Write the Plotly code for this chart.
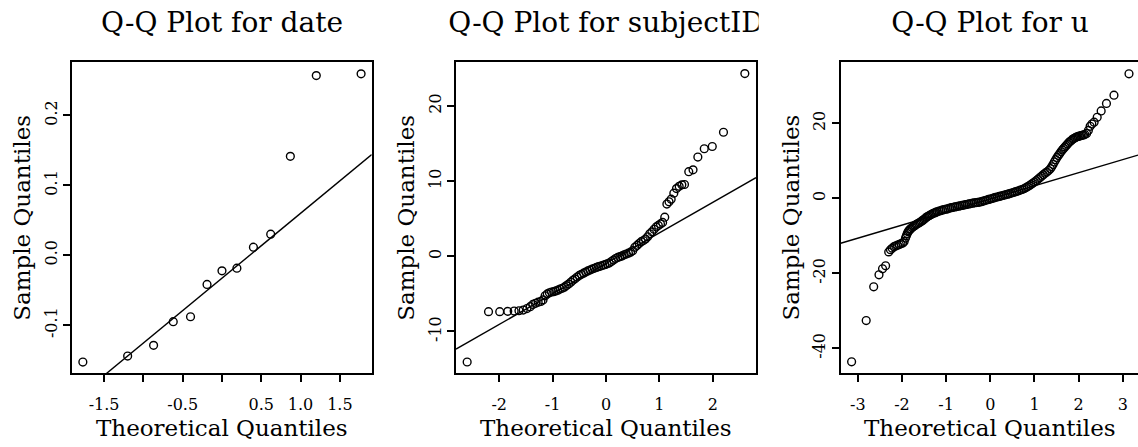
import plotly.graph_objects as go

# ---------------- data ----------------
date_theo = [-1.77, -1.20, -0.87, -0.62, -0.40, -0.19, 0.00, 0.19, 0.40, 0.62, 0.87, 1.20, 1.77]
date_samp = [-0.1529, -0.1443, -0.1290, -0.0952, -0.0881, -0.0419, -0.0224, -0.0186,
             0.0114, 0.0300, 0.1414, 0.2570, 0.2595]
date_line = (-0.0329, 0.0928)  # intercept, slope

subj_theo = [-2.60, -2.20, -1.99, -1.84, -1.72, -1.63, -1.55, -1.48, -1.42, -1.37, -1.32, -1.27,
             -1.22, -1.18, -1.14, -1.10, -1.06, -1.02, -0.98, -0.94, -0.90, -0.86, -0.82, -0.78,
             -0.74, -0.70, -0.66, -0.62, -0.58, -0.54, -0.50, -0.46, -0.42, -0.38, -0.34, -0.30,
             -0.26, -0.22, -0.18, -0.14, -0.10, -0.06, -0.02, 0.02, 0.06, 0.10, 0.14, 0.18,
             0.22, 0.26, 0.30, 0.34, 0.38, 0.42, 0.46, 0.50, 0.54, 0.58, 0.62, 0.66,
             0.70, 0.74, 0.78, 0.82, 0.86, 0.90, 0.94, 0.98, 1.02, 1.06, 1.10, 1.14,
             1.18, 1.22, 1.27, 1.32, 1.37, 1.42, 1.47, 1.55, 1.63, 1.72, 1.84, 1.99, 2.20, 2.60]
subj_samp = [-14.06, -7.36, -7.36, -7.32, -7.28, -7.24, -7.15, -6.95, -6.70, -6.40, -6.25, -6.10,
             -6.00, -5.80, -5.25, -5.00, -4.85, -4.75, -4.70, -4.60, -4.50, -4.35, -4.25, -4.10,
             -3.90, -3.70, -3.45, -3.20, -3.00, -2.75, -2.55, -2.40, -2.25, -2.10, -1.95, -1.82,
             -1.70, -1.60, -1.48, -1.38, -1.30, -1.20, -1.12, -1.00, -0.90, -0.70, -0.50, -0.30,
             -0.15, -0.05, 0.05, 0.20, 0.30, 0.42, 0.55, 0.75, 1.20, 1.45, 1.70, 1.95,
             2.10, 2.30, 2.60, 3.00, 3.25, 3.60, 3.90, 4.10, 4.30, 4.50, 5.20, 6.95,
             7.25, 7.60, 8.40, 9.00, 9.30, 9.50, 9.55, 11.25, 11.50, 13.20, 14.30, 14.60, 16.50, 24.30]
subj_line = (-0.94, 4.055)

u_theo = [-3.14, -2.81, -2.64, -2.52, -2.44, -2.37, -2.30, -2.26, -2.22, -2.18, -2.14, -2.10,
          -2.06, -2.02, -1.98, -1.95, -1.92, -1.90, -1.88, -1.86, -1.84, -1.82, -1.80, -1.77,
          -1.74, -1.71, -1.68, -1.65, -1.62, -1.59, -1.56, -1.53, -1.50, -1.47, -1.44, -1.41,
          -1.38, -1.35, -1.32, -1.29, -1.26, -1.23, -1.20, -1.16, -1.12, -1.08, -1.04, -1.00,
          -0.96, -0.92, -0.88, -0.84, -0.80, -0.76, -0.72, -0.68, -0.64, -0.60, -0.56, -0.52,
          -0.48, -0.44, -0.40, -0.36, -0.32, -0.28, -0.24, -0.20, -0.16, -0.12, -0.08, -0.04,
          0.00, 0.04, 0.08, 0.12, 0.16, 0.20, 0.24, 0.28, 0.32, 0.36, 0.40, 0.44,
          0.48, 0.52, 0.56, 0.60, 0.64, 0.68, 0.72, 0.76, 0.80, 0.84, 0.88, 0.92,
          0.96, 1.00, 1.04, 1.08, 1.12, 1.16, 1.20, 1.24, 1.28, 1.32, 1.36, 1.39,
          1.42, 1.45, 1.48, 1.51, 1.54, 1.57, 1.60, 1.63, 1.66, 1.69, 1.72, 1.75,
          1.78, 1.81, 1.84, 1.87, 1.90, 1.93, 1.96, 1.99, 2.02, 2.05, 2.08, 2.11,
          2.14, 2.18, 2.22, 2.26, 2.30, 2.35, 2.42, 2.51, 2.63, 2.80, 3.14]
u_samp = [-43.6, -32.6, -23.6, -20.4, -18.8, -18.0, -14.3, -13.7, -13.3, -12.9, -12.7, -12.5,
          -12.3, -12.1, -11.9, -11.5, -10.6, -10.0, -9.4, -8.9, -8.6, -8.3, -8.1, -7.8,
          -7.5, -7.3, -7.0, -6.8, -6.6, -6.4, -6.1, -5.9, -5.6, -5.3, -5.0, -4.8,
          -4.6, -4.4, -4.2, -4.0, -3.9, -3.7, -3.6, -3.4, -3.3, -3.1, -3.0, -2.9,
          -2.8, -2.6, -2.5, -2.4, -2.3, -2.2, -2.1, -2.0, -1.9, -1.8, -1.7, -1.6,
          -1.5, -1.4, -1.3, -1.2, -1.15, -1.1, -1.0, -0.9, -0.75, -0.6, -0.45, -0.3,
          -0.2, -0.05, 0.1, 0.25, 0.35, 0.5, 0.6, 0.75, 0.85, 1.0, 1.1, 1.25,
          1.4, 1.55, 1.7, 1.85, 2.0, 2.2, 2.35, 2.55, 2.8, 3.05, 3.35, 3.65,
          4.0, 4.35, 4.7, 5.1, 5.5, 5.9, 6.3, 6.7, 7.0, 7.4, 7.9, 8.4,
          9.0, 9.7, 10.3, 10.9, 11.4, 11.9, 12.4, 12.9, 13.3, 13.7, 14.1, 14.5,
          14.9, 15.2, 15.5, 15.8, 16.0, 16.2, 16.4, 16.5, 16.6, 16.7, 16.8, 16.9,
          17.0, 17.3, 18.1, 19.2, 19.8, 20.3, 21.6, 23.3, 25.3, 27.5, 33.2]
u_line = (-0.16, 3.495)

titles = ["Q-Q Plot for date", "Q-Q Plot for subjectID", "Q-Q Plot for u"]
xlab = "Theoretical Quantiles"
ylab = "Sample Quantiles"

x1_ticks = [-1.5, -1.0, -0.5, 0.0, 0.5, 1.0, 1.5]
x1_text = ["-1.5", "", "-0.5", "", "0.5", "1.0", "1.5"]
y1_ticks = [-0.1, 0.0, 0.1, 0.2]
y1_text = ["-0.1", "0.0", "0.1", "0.2"]
x2_ticks = [-2, -1, 0, 1, 2]
x2_text = ["-2", "-1", "0", "1", "2"]
y2_ticks = [-10, 0, 10, 20]
y2_text = ["-10", "0", "10", "20"]
x3_ticks = [-3, -2, -1, 0, 1, 2, 3]
x3_text = ["-3", "-2", "-1", "0", "1", "2", "3"]
y3_ticks = [-40, -20, 0, 20]
y3_text = ["-40", "-20", "0", "20"]

# ---------------- layout geometry ----------------
W, H = 1138, 447
FONT = "DejaVu Serif"
box_top, box_bot = 62.3, 373.3
panels = [
    dict(left=72.0, right=371.7, xr=[-1.908, 1.905], yr=[-0.169, 0.276], cx=222.0),
    dict(left=456.0, right=756.0, xr=[-2.809, 2.809], yr=[-15.56, 25.8], cx=606.0),
    dict(left=840.7, right=1138.0, xr=[-3.387, 3.344], yr=[-46.67, 36.27], cx=990.0),
]
ydom = [(H - box_bot) / H, (H - box_top) / H]

fig = go.Figure()

data = [(date_theo, date_samp, date_line), (subj_theo, subj_samp, subj_line), (u_theo, u_samp, u_line)]
ticks = [(x1_ticks, x1_text, y1_ticks, y1_text), (x2_ticks, x2_text, y2_ticks, y2_text),
         (x3_ticks, x3_text, y3_ticks, y3_text)]

for i, (p, (tx, sy, ln), (xt, xtt, yt, ytt)) in enumerate(zip(panels, data, ticks)):
    n = "" if i == 0 else str(i + 1)
    fig.add_trace(go.Scatter(x=tx, y=sy, mode="markers", xaxis="x" + n, yaxis="y" + n,
                             marker=dict(symbol="circle-open", size=7.8, color="black",
                                         line=dict(width=1.4, color="black")),
                             hoverinfo="skip", showlegend=False))
    b, m = ln
    lx = [p["xr"][0], p["xr"][1]]
    fig.add_trace(go.Scatter(x=lx, y=[b + m * v for v in lx], mode="lines",
                             xaxis="x" + n, yaxis="y" + n,
                             line=dict(color="black", width=1.4),
                             hoverinfo="skip", showlegend=False))
    common = dict(showline=True, linecolor="black", linewidth=1.8, ticks="outside", ticklen=7,
                  tickwidth=1.5, tickcolor="black", showgrid=False, zeroline=False,
                  tickfont=dict(family=FONT, size=16, color="black"), tickmode="array",
                  automargin=False, fixedrange=True)
    fig.update_layout(**{
        "xaxis" + n: dict(domain=[p["left"] / W, min(p["right"] / W, 1.0)], range=p["xr"],
                          anchor="y" + n, mirror=True, tickvals=xt, ticktext=xtt,
                          ticklabelstandoff=9, **common),
        "yaxis" + n: dict(domain=ydom, range=p["yr"], anchor="x" + n, mirror=(i < 2),
                          tickvals=yt, ticktext=ytt, tickangle=-90, **common),
    })
    fig.add_annotation(text=xlab, xref="paper", yref="paper", x=p["cx"] / W, y=1 - 428 / H,
                       showarrow=False, xanchor="center", yanchor="middle",
                       font=dict(family=FONT, size=23, color="black"))
    fig.add_annotation(text=ylab, xref="paper", yref="paper", x=(p["left"] - 50) / W,
                       y=1 - (box_top + box_bot) / 2 / H, textangle=-90,
                       showarrow=False, xanchor="center", yanchor="middle",
                       font=dict(family=FONT, size=23, color="black"))

# titles: text clipped to each figure region (as in R's figure regions)
regions = [(0, W / 3), (W / 3, 2 * W / 3), (2 * W / 3, W)]
for i, ((a, c), p, t) in enumerate(zip(regions, panels, titles)):
    k = str(i + 4)
    fig.add_trace(go.Scatter(x=[p["cx"]], y=[25], mode="text", text=[t], xaxis="x" + k, yaxis="y4",
                             textposition="middle center", cliponaxis=True,
                             textfont=dict(family=FONT, size=28, color="black"),
                             hoverinfo="skip", showlegend=False))
    fig.update_layout(**{"xaxis" + k: dict(domain=[a / W, c / W], range=[a, c], visible=False,
                                           anchor="y4", fixedrange=True)})
fig.update_layout(yaxis4=dict(domain=[1 - 50 / H, 1], range=[50, 0], visible=False,
                              anchor="x4", fixedrange=True))

fig.update_layout(width=W, height=H, margin=dict(l=0, r=0, t=0, b=0), autosize=False,
                  template="none", paper_bgcolor="white", plot_bgcolor="white",
                  showlegend=False)

fig.write_html("out.html", config={"displayModeBar": False})
